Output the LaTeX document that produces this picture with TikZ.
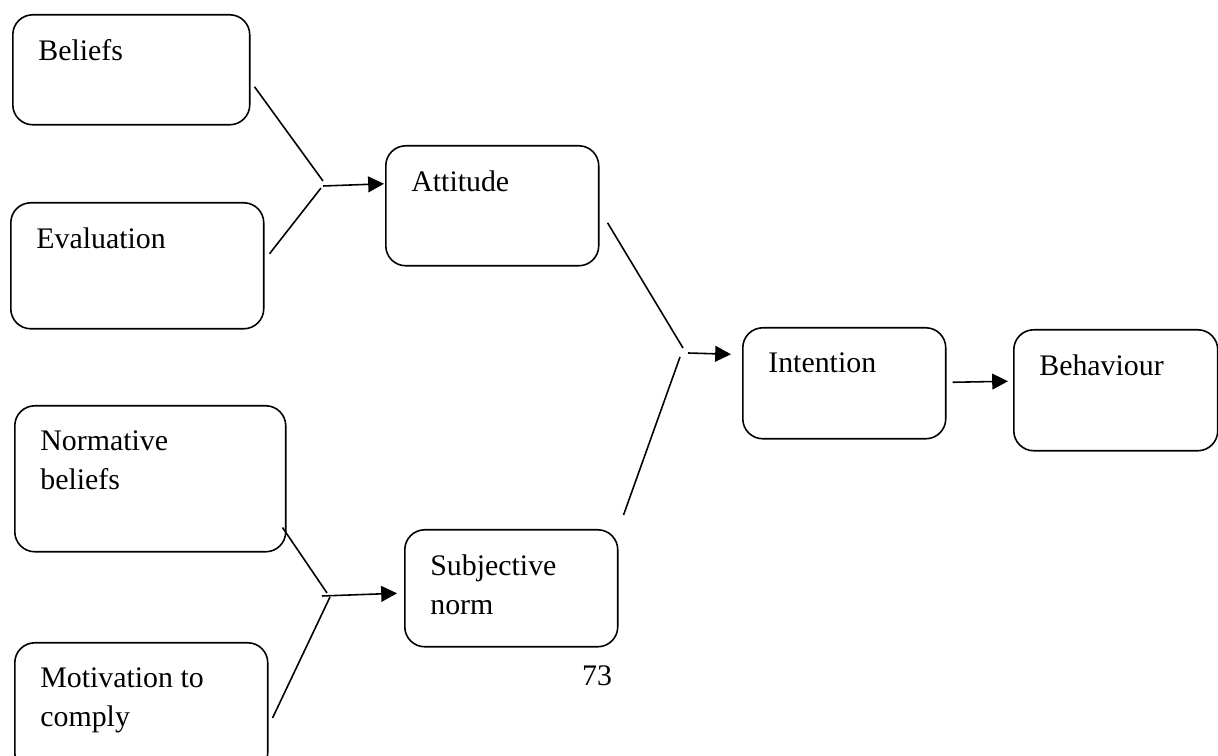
\documentclass[tikz,border=0pt]{standalone}
\usepackage{fontspec}
\setmainfont{Liberation Serif}
\usepackage{tikz}
\usetikzlibrary{arrows.meta}

\begin{document}
\begin{tikzpicture}[
  x=0.02cm,y=-0.02cm,
  box/.style={draw,line width=0.9pt,rounded corners=0.4cm,inner sep=0pt,anchor=north west},
  lbl/.style={anchor=north west,inner sep=0pt,align=left,xshift=0.52cm,yshift=-0.5cm,
              font=\fontsize{17pt}{22.3pt}\selectfont},
  ln/.style={line width=0.9pt},
  arr/.style={-{Triangle[length=9pt,width=9pt]},line width=0.9pt}]
\useasboundingbox (0,0) rectangle (1218,756);
% boxes
\node[box,minimum width=4.74cm,minimum height=2.2cm,label={[lbl]north west:Beliefs}]  (bel) at (12,14) {};
\node[box,minimum width=5.06cm,minimum height=2.52cm,label={[lbl]north west:Evaluation}] (eva) at (10,202) {};
\node[box,minimum width=4.26cm,minimum height=2.4cm,label={[lbl]north west:Attitude}] (att) at (385,145) {};
\node[box,minimum width=4.06cm,minimum height=2.22cm,label={[lbl]north west:Intention}] (int) at (742,327) {};
\node[box,minimum width=4.08cm,minimum height=2.42cm,label={[lbl]north west:Behaviour}] (beh) at (1013,329) {};
\node[box,minimum width=5.42cm,minimum height=2.92cm,label={[lbl]north west:Normative\\beliefs}] (nor) at (14,405) {};
\node[box,minimum width=4.26cm,minimum height=2.34cm,label={[lbl]north west:Subjective\\norm}] (sub) at (404,529) {};
\node[box,minimum width=5.06cm,minimum height=2.6cm,label={[lbl]north west:Motivation to\\comply}] (mot) at (14,642) {};
\node[font=\fontsize{17pt}{22.3pt}\selectfont] (pg) at (597,676) {73};
% junctions
\coordinate (j1) at (323,186);
\coordinate (j2) at (688,353);
\coordinate (j3) at (322,596);
% connectors
\draw[ln] ([shift={(4,17)}]bel.east) -- ([shift={(0,-5)}]j1);
\draw[ln] ([shift={(5,-12)}]eva.east) -- ([shift={(-2,2)}]j1);
\draw[arr] (j1) -- ([shift={(-1,-22)}]att.west);
\draw[ln] ([shift={(8,17)}]att.east) -- ([shift={(-5,-5)}]j2);
\draw[ln] ([shift={(5,-14)}]sub.north east) -- ([shift={(-8,4)}]j2);
\draw[arr] (j2) -- ([shift={(-11,-29)}]int.west);
\draw[arr] ([shift={(6,-1)}]int.east) -- ([shift={(-5,-9)}]beh.west);
\draw[ln] ([shift={(-4,-25)}]nor.south east) -- ([shift={(5,-3)}]j3);
\draw[ln] ([shift={(4,76)}]mot.north east) -- ([shift={(8,1)}]j3);
\draw[arr] (j3) -- ([shift={(-7,5)}]sub.west);
\end{tikzpicture}
\end{document}
